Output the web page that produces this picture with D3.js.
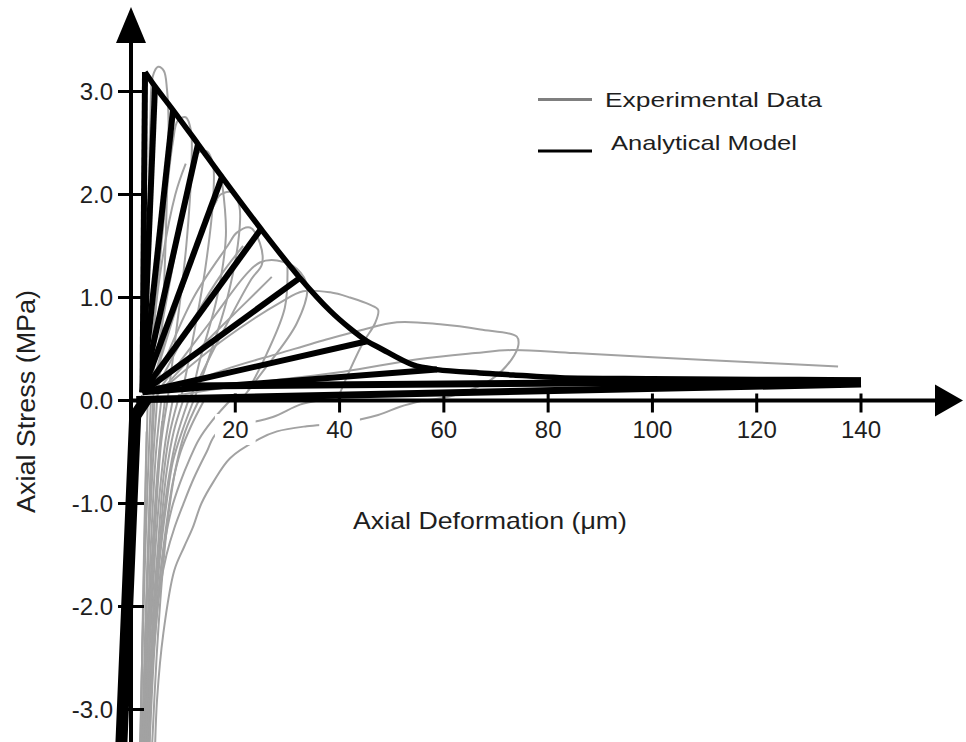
<!DOCTYPE html>
<html>
<head>
<meta charset="utf-8">
<script src="https://cdn.jsdelivr.net/npm/d3@7"></script>
<style>
  html, body { margin: 0; padding: 0; background: #fff; }
  svg { display: block; }
  text { font-family: "Liberation Sans", Arial, sans-serif; fill: #1e1e1e; }
</style>
</head>
<body>
<svg id="chart" width="966" height="742"></svg>
<script>
// ---- axis ticks ----
const xTicks = [20, 40, 60, 80, 100, 120, 140];
const yTicks = [3, 2, 1, 0, -1, -2, -3];
const yTickLabels = ["3.0", "2.0", "1.0", "0.0", "-1.0", "-2.0", "-3.0"];

// ---- analytical model (deformation µm, stress MPa) ----
// backbone envelope of the model
const modelEnvelope = [
  [2.69, 3.19], [4.6, 3.05], [8.06, 2.82], [12.85, 2.49], [17.45, 2.17],
  [24.93, 1.665], [32.4, 1.19], [38.2, 0.87], [42.0, 0.70], [45.3, 0.575],
  [47.7, 0.51], [54.1, 0.345], [58.7, 0.30], [66.9, 0.267], [73.3, 0.248],
  [82.3, 0.222], [100, 0.212], [120, 0.205], [140, 0.20]
];
// common start point of the loading / unloading branches
const modelOrigin = [2.2, 0.08];
// peak points reached by each cycle
const modelPeaks = [
  [2.69, 3.19], [4.6, 3.05], [8.06, 2.82], [12.85, 2.49], [17.45, 2.17],
  [24.93, 1.665], [32.4, 1.19], [45.3, 0.575], [58.7, 0.30]
];
// late-cycle branches lying close to the deformation axis
const modelLateBranches = [
  [[9.7, 0.14], [140, 0.19]],
  [[1.0, 0.01], [140, 0.16]]
];
// compression branch
const modelCompression = [[3.0, 0.02], [0.8, -0.15], [-1.9, -3.4]];

// ---- experimental data: tension cycles ----
const expU1 = [[3, 0.2], [3.3, 1.5], [3.7, 2.7], [4.2, 3.15], [5.2, 3.24], [6.3, 3.2], [6.9, 3.02], [7.2, 2.7], [7.0, 2.2], [6.4, 1.2], [5.5, 0.3], [5, 0]];
const expU2 = [[3.5, 0.2], [6, 1.6], [8, 2.5], [9, 2.72], [10.5, 2.75], [11.5, 2.62], [11.6, 2.3], [10.6, 1.5], [8.5, 0.6], [7, 0]];
const expU3 = [[4, 0.2], [8, 1.3], [11.5, 2.2], [12.8, 2.4], [14.5, 2.42], [15.7, 2.3], [15.8, 2.0], [14.3, 1.3], [11.5, 0.5], [9.5, 0]];
const expU4 = [[4.5, 0.2], [10, 1.1], [15.5, 1.85], [17.2, 2.0], [19.5, 2.02], [20.8, 1.88], [20.7, 1.6], [18.5, 1.0], [14.5, 0.35], [12, 0]];
const expU5 = [[5, 0.2], [12, 1.0], [18.5, 1.5], [20.3, 1.63], [22.8, 1.68], [24.7, 1.53], [25.1, 1.32], [23.1, 1.18], [16.1, 0.52], [12.3, 0.13], [11, 0]];
const expU6 = [[6, 0.15], [15, 0.75], [22, 1.22], [24.7, 1.34], [28, 1.36], [31.8, 1.28], [33.8, 1.1], [31.8, 0.75], [25.1, 0.27], [21, 0]];
const expU7 = [[7, 0.15], [18, 0.6], [28.6, 0.95], [33, 1.06], [38.2, 1.05], [42, 1.0], [45.8, 0.93], [47.4, 0.88], [46.8, 0.75], [44.5, 0.56], [41.4, 0.23], [39.5, 0]];
const expU8 = [[8, 0.1], [18, 0.3], [28.6, 0.46], [38, 0.6], [43.9, 0.68], [51, 0.76], [59.3, 0.74], [67, 0.69], [74, 0.62], [74.3, 0.54], [73, 0.4], [69, 0.2], [62, 0.05], [56, 0]];
const expU9 = [[9, 0.05], [25, 0.18], [40.7, 0.28], [55, 0.4], [66, 0.46], [73, 0.49], [85, 0.46], [100, 0.42], [120, 0.37], [135.6, 0.33]];
// reloading paths crossing the fan
const expR1 = [[3.2, 0.1], [5.5, 1.2], [8.5, 2.0], [10.5, 2.3]];
const expR2 = [[3.8, 0.1], [9, 1.0], [14, 1.7], [16.5, 1.95]];
const expR3 = [[4.2, 0.05], [11, 0.7], [17, 1.2], [21.5, 1.5]];
const expR4 = [[5, 0.05], [14, 0.55], [22, 0.95], [27, 1.2]];
const expU10 = [[17.5, 2.1], [18.2, 1.6], [16.5, 1.0], [13, 0.35], [11.5, 0]];
const expU11 = [[30, 1.3], [29.5, 0.9], [26, 0.45], [22.5, 0.1]];

// ---- experimental data: compression branches ----
const expN1 = [[56, 0], [51.6, -0.06], [47.4, -0.14], [40, -0.22], [33.7, -0.25], [28, -0.3], [24.7, -0.37], [19, -0.56], [15.8, -0.79], [13.5, -1.0], [11.8, -1.24], [10.2, -1.42], [8.3, -1.65], [6.2, -2.26], [5.0, -2.9], [4.6, -3.4]];
const expN2 = [[36, 0], [32.4, -0.04], [27.2, -0.16], [21, -0.24], [16.4, -0.32], [14.5, -0.5], [12, -0.76], [10, -1.01], [8.3, -1.24], [6.8, -1.5], [5.6, -1.81], [4.4, -2.4], [3.6, -2.9], [3.0, -3.4]];
const expN3 = [[19, 0], [15.5, -0.2], [13, -0.38], [11.4, -0.55], [9.4, -0.8], [7.8, -1.05], [6.4, -1.4], [5.2, -1.9], [4.0, -2.6], [3.2, -3.4]];
const expN4 = [[14, 0], [11.5, -0.25], [9.5, -0.5], [8, -0.8], [6.8, -1.2], [5.6, -1.7], [4.5, -2.4], [3.5, -3.4]];
const expN5 = [[12, 0], [9.8, -0.3], [8, -0.6], [6.8, -1.0], [5.6, -1.5], [4.6, -2.1], [3.7, -2.8], [3.2, -3.4]];
const expN6 = [[10, 0], [8.2, -0.3], [6.8, -0.7], [5.8, -1.2], [4.8, -1.8], [3.8, -2.5], [2.8, -3.4]];
const expN7 = [[8, 0], [6.6, -0.4], [5.5, -0.9], [4.6, -1.5], [3.8, -2.2], [3.0, -2.9], [2.5, -3.4]];
const expN8 = [[6.5, 0], [5.4, -0.5], [4.5, -1.1], [3.7, -1.8], [3, -2.6], [2.4, -3.4]];
const expN9 = [[5, 0], [4.2, -0.6], [3.5, -1.3], [2.9, -2.1], [2.3, -3.0], [2.1, -3.4]];
const expN10 = [[3.8, 0], [3.2, -0.8], [2.6, -1.7], [2.1, -2.6], [1.8, -3.4]];
const expN11 = [[4.5, 0], [3.8, -0.7], [3.2, -1.5], [2.7, -2.3], [2.3, -3.4]];
const expN12 = [[7, 0], [5.8, -0.4], [4.9, -1.0], [4.1, -1.7], [3.4, -2.5], [2.9, -3.4]];
const expN13 = [[9, 0], [7.3, -0.35], [6.1, -0.8], [5.2, -1.4], [4.3, -2.0], [3.6, -2.7], [3.1, -3.4]];
const expN14 = [[11, 0], [8.8, -0.35], [7.4, -0.7], [6.3, -1.1], [5.3, -1.6], [4.3, -2.3], [3.5, -3.4]];
const expN15 = [[3.2, 0], [2.8, -0.9], [2.4, -1.9], [2.0, -2.8], [1.7, -3.4]];
const expN16 = [[5.8, 0], [4.8, -0.5], [4.0, -1.2], [3.4, -1.9], [2.8, -2.7], [2.5, -3.4]];
const expN17 = [[4.2, 0], [3.6, -0.9], [3.1, -1.8], [2.6, -2.7], [2.2, -3.4]];
const expN18 = [[6, -0.2], [5.0, -0.8], [4.2, -1.5], [3.6, -2.2], [3.0, -3.0], [2.7, -3.4]];
const expN19 = [[13, 0], [10.4, -0.3], [8.6, -0.65], [7.2, -1.1], [6.0, -1.7], [4.9, -2.5], [4.0, -3.4]];
const expN20 = [[3.0, -0.3], [2.6, -1.2], [2.3, -2.0], [2.0, -2.9], [1.9, -3.4]];

const expTension = [expU1, expU2, expU3, expU4, expU5, expU6, expU7, expU8, expU9, expU10, expU11, expR1, expR2, expR3, expR4];
const expCompression = [expN1, expN2, expN3, expN4, expN5, expN6, expN7, expN8, expN9, expN10,
  expN11, expN12, expN13, expN14, expN15, expN16, expN17, expN18, expN19, expN20];

const legendItems = [
  { label: "Experimental Data", color: "#7f7f7f" },
  { label: "Analytical Model", color: "#000000" }
];

// ---- scales ----
const svg = d3.select("#chart");
const x = d3.scaleLinear().domain([0, 140]).range([131, 861]);
const y = d3.scaleLinear().domain([-3, 3]).range([709.5, 91.5]);

const straight = d3.line().x(d => x(d[0])).y(d => y(d[1]));
const smooth = d3.line().x(d => x(d[0])).y(d => y(d[1])).curve(d3.curveCatmullRom.alpha(0.5));

// ---- experimental curves (grey) ----
const gExp = svg.append("g")
  .attr("fill", "none")
  .attr("stroke", "#a2a2a2")
  .attr("stroke-width", 2)
  .attr("stroke-linejoin", "round");
gExp.selectAll("path.comp").data(expCompression).join("path")
  .attr("class", "comp").attr("d", smooth);
gExp.selectAll("path.ten").data(expTension).join("path")
  .attr("class", "ten").attr("d", smooth);

// ---- x tick labels sit on white boxes ----
const gXLab = svg.append("g");
xTicks.forEach(t => {
  const g = gXLab.append("g");
  const txt = g.append("text")
    .attr("x", x(t)).attr("y", 438)
    .attr("text-anchor", "middle")
    .attr("font-size", 24)
    .text(t);
  const bb = txt.node().getBBox();
  g.insert("rect", "text")
    .attr("x", bb.x - 7).attr("y", bb.y - 2)
    .attr("width", bb.width + 14).attr("height", bb.height + 4)
    .attr("fill", "#fff");
});

// ---- analytical model (black) ----
const gModel = svg.append("g")
  .attr("fill", "none")
  .attr("stroke", "#000");

gModel.selectAll("path.branch").data(modelPeaks).join("path")
  .attr("class", "branch")
  .attr("stroke-width", 6)
  .attr("d", p => straight([modelOrigin, p]));

gModel.selectAll("path.late").data(modelLateBranches).join("path")
  .attr("class", "late")
  .attr("stroke-width", 7)
  .attr("d", straight);

gModel.append("path")
  .attr("stroke-width", 5.5)
  .attr("stroke-linejoin", "round")
  .attr("d", smooth(modelEnvelope));

gModel.append("path")
  .attr("stroke-width", 12)
  .attr("stroke-linejoin", "round")
  .attr("d", straight(modelCompression));

// ---- axes ----
const gAxis = svg.append("g");
const x0 = x(0), y0 = y(0);
gAxis.append("line")
  .attr("x1", x0).attr("x2", 936).attr("y1", y0).attr("y2", y0)
  .attr("stroke", "#000").attr("stroke-width", 4);
gAxis.append("line")
  .attr("x1", x0).attr("x2", x0).attr("y1", 742).attr("y2", 40)
  .attr("stroke", "#000").attr("stroke-width", 4);
gAxis.append("path")
  .attr("d", `M963,${y0} L935,${y0 - 16} L935,${y0 + 16} Z`)
  .attr("fill", "#000");
gAxis.append("path")
  .attr("d", `M${x0},7 L${x0 - 15},43 L${x0 + 15},43 Z`)
  .attr("fill", "#000");

gAxis.selectAll("line.xt").data(xTicks).join("line")
  .attr("class", "xt")
  .attr("x1", d => x(d)).attr("x2", d => x(d))
  .attr("y1", y0 - 7).attr("y2", y0 + 12)
  .attr("stroke", "#000").attr("stroke-width", 3);

gAxis.selectAll("line.yt").data(yTicks).join("line")
  .attr("class", "yt")
  .attr("x1", x0 - 13).attr("x2", x0 + 13)
  .attr("y1", d => y(d)).attr("y2", d => y(d))
  .attr("stroke", "#000").attr("stroke-width", 3);

gAxis.selectAll("text.yl").data(yTicks).join("text")
  .attr("class", "yl")
  .attr("x", 113)
  .attr("y", d => y(d) + 8.5)
  .attr("text-anchor", "end")
  .attr("font-size", 24)
  .text((d, i) => yTickLabels[i]);

// ---- axis titles ----
svg.append("text")
  .attr("x", 353).attr("y", 529)
  .attr("font-size", 24)
  .attr("textLength", 274).attr("lengthAdjust", "spacingAndGlyphs")
  .text("Axial Deformation (\u03bcm)");

svg.append("text")
  .attr("transform", "translate(35,513) rotate(-90)")
  .attr("x", 0).attr("y", 0)
  .attr("font-size", 25)
  .attr("textLength", 223).attr("lengthAdjust", "spacingAndGlyphs")
  .text("Axial Stress (MPa)");

// ---- legend ----
const legendRows = [
  { ly: 99.5, tx: 605, ty: 107, len: 217 },
  { ly: 151, tx: 611, ty: 150, len: 186 }
];
const gLeg = svg.append("g");
legendItems.forEach((item, i) => {
  const r = legendRows[i];
  gLeg.append("line")
    .attr("x1", 538).attr("x2", 592).attr("y1", r.ly).attr("y2", r.ly)
    .attr("stroke", item.color).attr("stroke-width", 3);
  gLeg.append("text")
    .attr("x", r.tx).attr("y", r.ty)
    .attr("font-size", 21)
    .attr("textLength", r.len).attr("lengthAdjust", "spacingAndGlyphs")
    .text(item.label);
});
</script>
</body>
</html>
